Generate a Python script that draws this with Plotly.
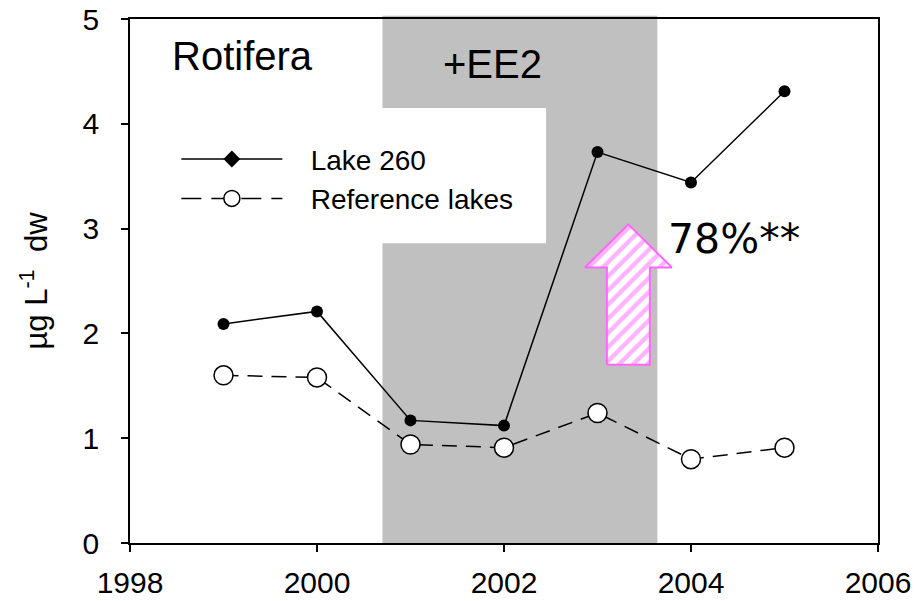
import plotly.graph_objects as go

# Rotifera biomass (µg/L dry weight), Lake 260 vs. reference lakes
years = [1999, 2000, 2001, 2002, 2003, 2004, 2005]
lake260 = [2.09, 2.21, 1.17, 1.12, 3.73, 3.44, 4.31]
reference_lakes = [1.60, 1.58, 0.94, 0.91, 1.24, 0.80, 0.91]

x_ticks = [1998, 2000, 2002, 2004, 2006]
y_ticks = [0, 1, 2, 3, 4, 5]

# EE2 addition period (shaded)
ee2_start, ee2_end = 2000.7, 2003.64

# Up-arrow marking the increase
arrow_x = 2003.33
arrow_base, arrow_tip, arrow_neck = 1.70, 3.04, 2.63
shaft_half, head_half = 0.23, 0.465

FONT = "Arial, Liberation Sans, sans-serif"
PINK = "#ff66ff"

fig = go.Figure()

fig.add_trace(go.Scatter(
    x=years, y=reference_lakes, mode="lines+markers", showlegend=False,
    line=dict(color="black", width=1.5, dash="15px,9px"),
    marker=dict(symbol="circle", size=19, color="white",
                line=dict(color="black", width=1.5)),
))
fig.add_trace(go.Scatter(
    x=years, y=lake260, mode="lines+markers", showlegend=False,
    line=dict(color="black", width=1.5),
    marker=dict(symbol="circle", size=12, color="black"),
))

# legend entries
fig.add_trace(go.Scatter(
    x=[None], y=[None], mode="lines+markers",
    name="&nbsp;&nbsp;&nbsp;Lake 260",
    line=dict(color="black", width=1.5),
    marker=dict(symbol="diamond", size=13, color="black"),
))
fig.add_trace(go.Scatter(
    x=[None], y=[None], mode="lines+markers",
    name="&nbsp;&nbsp;&nbsp;Reference lakes",
    line=dict(color="black", width=1.5, dash="20px,10px"),
    marker=dict(symbol="circle", size=19, color="white",
                line=dict(color="black", width=1.5)),
))

# hatched arrow
ax = [arrow_x - shaft_half, arrow_x - shaft_half, arrow_x - head_half, arrow_x,
      arrow_x + head_half, arrow_x + shaft_half, arrow_x + shaft_half,
      arrow_x - shaft_half]
ay = [arrow_base, arrow_neck, arrow_neck, arrow_tip,
      arrow_neck, arrow_neck, arrow_base, arrow_base]
fig.add_trace(go.Scatter(
    x=ax, y=ay, mode="lines", fill="toself", showlegend=False,
    fillcolor="white",
    fillpattern=dict(shape="/", fgcolor=PINK, bgcolor="white",
                     size=10, solidity=0.45),
    line=dict(color=PINK, width=2), hoverinfo="skip",
))

fig.add_shape(type="rect", xref="x", yref="paper",
              x0=ee2_start, x1=ee2_end, y0=0, y1=1.006,
              fillcolor="#c0c0c0", line_width=0, layer="below")
# white backing behind the legend
fig.add_shape(type="rect", xref="x", yref="y",
              x0=1998.3, x1=2002.45, y0=2.86, y1=4.15,
              fillcolor="white", line_width=0, layer="below")

fig.add_annotation(x=1998.43, y=4.65, xref="x", yref="y", text="Rotifera",
                   showarrow=False, xanchor="left", yanchor="middle",
                   font=dict(family=FONT, size=40, color="black"))
fig.add_annotation(x=2001.88, y=4.57, xref="x", yref="y", text="+EE2",
                   showarrow=False, xanchor="center", yanchor="middle",
                   font=dict(family=FONT, size=40, color="black"))
fig.add_annotation(x=2003.73, y=2.9, xref="x", yref="y", text="78%**",
                   showarrow=False, xanchor="left", yanchor="middle",
                   font=dict(family="DejaVu Sans", size=41, color="black"))

axis_common = dict(showgrid=False, zeroline=False, showline=True,
                   linecolor="black", linewidth=1.5, mirror=True,
                   ticks="outside", ticklen=7, tickwidth=1.5,
                   tickcolor="black")

fig.update_xaxes(range=[1998, 2006], tickvals=x_ticks,
                 tickfont=dict(family=FONT, size=30, color="black"),
                 ticklabelstandoff=5,
                 **axis_common)
fig.update_yaxes(range=[0, 5], tickvals=y_ticks,
                 tickfont=dict(family=FONT, size=30, color="black"),
                 ticklabelstandoff=16,
                 title=dict(text="µg L<sup>-1</sup>&nbsp;&nbsp;dw",
                            font=dict(family=FONT, size=31, color="black"),
                            standoff=26),
                 **axis_common)

fig.update_layout(
    width=920, height=601,
    margin=dict(l=130, r=42, t=19, b=58, autoexpand=False),
    paper_bgcolor="white", plot_bgcolor="white",
    legend=dict(x=0.062, y=0.78, xanchor="left", yanchor="top",
                bgcolor="rgba(0,0,0,0)", itemwidth=101,
                font=dict(family=FONT, size=28, color="black"),
                tracegroupgap=4),
)

fig.write_html("out.html")
